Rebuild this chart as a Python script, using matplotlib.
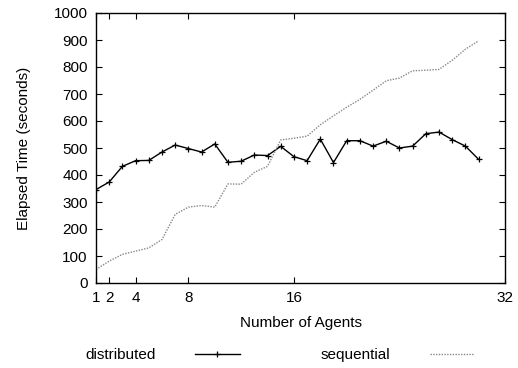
import matplotlib.pyplot as plt
import numpy as np

plt.rcParams['font.family'] = ['Liberation Sans', 'DejaVu Sans']
plt.rcParams['font.size'] = 11

agents = list(range(1, 31))
distributed = [346, 374, 432, 453, 454, 485, 511, 498, 485, 515,
               447, 451, 474, 472, 506, 468, 453, 533, 446, 527,
               527, 507, 525, 500, 507, 553, 559, 531, 507, 458]
sequential = [50, 81, 106, 118, 130, 161, 254, 281, 287, 281,
              367, 366, 410, 432, 530, 536, 544, 586, 619, 651,
              680, 714, 749, 759, 786, 788, 791, 825, 866, 897]
xticks = [1, 2, 4, 8, 16, 32]
yticks = list(range(0, 1001, 100))

fig = plt.figure(figsize=(5.18, 3.68), dpi=100)
ax = fig.add_axes([96 / 518, 1 - 283 / 368, 409 / 518, 270 / 368])

ax.plot(agents, distributed, color='black', linewidth=1, marker='+',
        markersize=5, markeredgewidth=0.9, label='distributed')
ax.plot(agents, sequential, color='#888888', linewidth=1,
        linestyle=(0, (1, 1)), label='sequential')

ax.set_xlim(1, 32)
ax.set_ylim(0, 1000)
ax.set_xticks(xticks)
ax.set_yticks(yticks)
ax.tick_params(direction='in', top=True, right=True, length=4, width=0.8, pad=6)
for s in ax.spines.values():
    s.set_linewidth(1)

ax.set_xlabel('Number of Agents', labelpad=8)
ax.set_ylabel('Elapsed Time (seconds)', labelpad=16)

fig.legend(loc='center', bbox_to_anchor=(0.54, 1 - 355 / 368), ncol=2,
           markerfirst=False, frameon=False, handlelength=2.9,
           handletextpad=2.6, columnspacing=5.3)

fig.savefig('out.png', dpi=100)
